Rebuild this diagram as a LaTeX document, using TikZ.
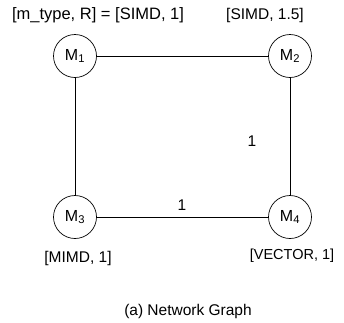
\documentclass[tikz,border=0pt]{standalone}
\usepackage{fontspec}
\setmainfont{Liberation Sans}
\begin{document}
\begin{tikzpicture}[x=1pt,y=-1pt,
  mnode/.style={circle,draw,line width=0.7pt,minimum size=43pt,inner sep=0pt,font=\fontsize{16}{18}\selectfont},
  lbl/.style={font=\fontsize{15.5}{18}\selectfont,inner sep=0pt},
  edge/.style={line width=0.9pt}]
\useasboundingbox (0,0) rectangle (344,322);
\node[mnode] (m1) at (75,56) {M\textsubscript{1}};
\node[mnode] (m2) at (290,56) {M\textsubscript{2}};
\node[mnode] (m3) at (75,217) {M\textsubscript{3}};
\node[mnode] (m4) at (290,217) {M\textsubscript{4}};
\draw[edge] (m1) -- (m2);
\draw[edge] (m1) -- (m3);
\draw[edge] (m2) -- (m4);
\draw[edge] (m3) -- (m4);
\node[lbl,font=\fontsize{16.5}{19}\selectfont] (t1) at (98,15) {[m\_type, R] = [SIMD, 1]};
\node[lbl] (t2) at (265,15) {[SIMD, 1.5]};
\node[lbl] (t3) at (78,258) {[MIMD, 1]};
\node[lbl,font=\fontsize{14.5}{17}\selectfont] (t4) at (292,256) {[VECTOR, 1]};
\node[lbl] (w1) at (252,141) {1};
\node[lbl] (w2) at (182,205) {1};
\node[lbl] (cap) at (188,311) {(a) Network Graph};
\end{tikzpicture}
\end{document}
